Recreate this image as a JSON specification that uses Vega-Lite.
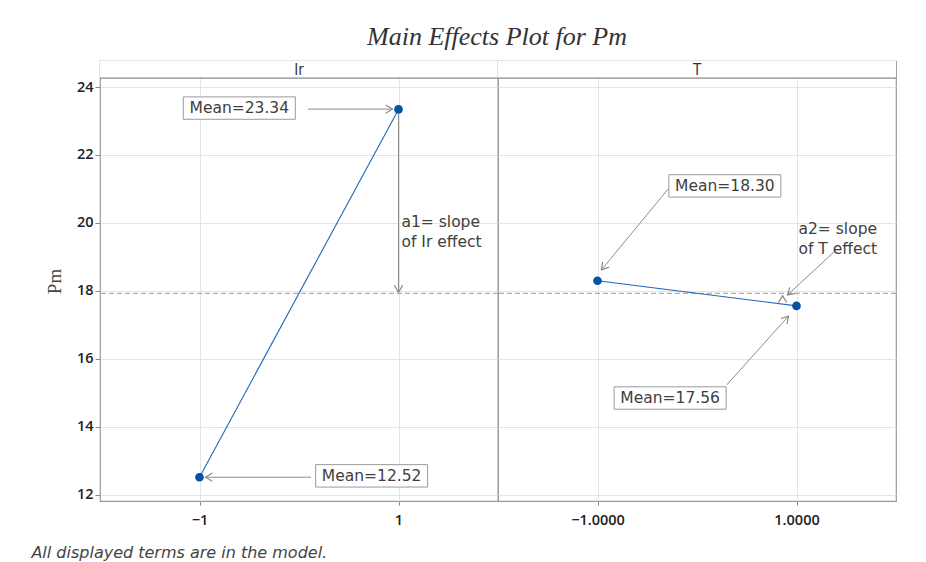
{
  "$schema": "https://vega.github.io/schema/vega-lite/v6.json",
  "background": "white",
  "padding": {"left": 30, "top": 24, "right": 5, "bottom": 5},
  "title": {"text": "Main Effects Plot for Pm", "font": "Liberation Serif", "fontStyle": "italic", "fontWeight": "normal", "fontSize": 26, "color": "#333333", "anchor": "middle", "offset": 10, "dx": 33},
  "spacing": 0,
  "bounds": "flush",
  "datasets": {
    "means": [
      {"panel": "Ir", "level": -1, "mean": 12.52},
      {"panel": "Ir", "level": 1, "mean": 23.34},
      {"panel": "T", "level": -1, "mean": 18.30},
      {"panel": "T", "level": 1, "mean": 17.56}
    ],
    "factors": [
      {"panel": "Ir", "name": "Ir"},
      {"panel": "T", "name": "T"}
    ],
    "boxes": [
      {"panel": "Ir", "x": -0.6, "y": 23.38, "label": "Mean=23.34"},
      {"panel": "Ir", "x": 0.73, "y": 12.56, "label": "Mean=12.52"},
      {"panel": "T", "x": 0.28, "y": 21.09, "label": "Mean=18.30"},
      {"panel": "T", "x": -0.27, "y": 14.85, "label": "Mean=17.56"}
    ],
    "arrows": [
      {"panel": "Ir", "x": 0.09, "y": 23.35, "x2": 0.94, "y2": 23.35, "heading": 0},
      {"panel": "Ir", "x": 1, "y": 23.2, "x2": 1, "y2": 17.96, "heading": 90},
      {"panel": "Ir", "x": 0.12, "y": 12.52, "x2": -0.94, "y2": 12.52, "heading": 180},
      {"panel": "T", "x": -0.29, "y": 21.0, "x2": -0.96, "y2": 18.62, "heading": 129},
      {"panel": "T", "x": 1.40, "y": 19.21, "x2": 0.91, "y2": 17.88, "heading": 137},
      {"panel": "T", "x": 0.30, "y": 15.24, "x2": 0.92, "y2": 17.26, "heading": 312},
      {"panel": "T", "x": 0.86, "y": 17.80, "x2": 0.86, "y2": 17.86, "heading": 270}
    ],
    "notes": [
      {"panel": "Ir", "x": 1.03, "y": 20.03, "label": "a1= slope\nof Ir effect"},
      {"panel": "T", "x": 1.02, "y": 19.81, "label": "a2= slope\nof T effect"}
    ]
  },
  "hconcat": [
    {
      "width": 398,
      "height": 440,
      "title": {"text": "All displayed terms are in the model.", "orient": "bottom", "anchor": "start", "dx": -14, "offset": 18, "font": "DejaVu Sans", "fontStyle": "italic", "fontWeight": "normal", "fontSize": 16, "color": "#444444"},
      "layer": [
        {
          "data": {"name": "means"},
          "transform": [{"filter": "datum.panel === 'Ir'"}],
          "mark": {"type": "rule", "stroke": "#b0b0b0", "strokeDash": [5, 3], "strokeWidth": 1.2},
          "encoding": {
            "y": {"aggregate": "mean", "field": "mean", "type": "quantitative", "scale": {"domain": [11.82, 24.765], "nice": false, "zero": false},
              "axis": {"values": [12, 14, 16, 18, 20, 22, 24], "title": "Pm", "titleFont": "Liberation Serif", "titleFontSize": 19, "titleFontWeight": "normal", "titleColor": "#444444", "titlePadding": 12, "labelFont": "Open Sans", "labelFontWeight": 600, "labelFontSize": 14.5, "labelColor": "#222222", "labelPadding": 2, "tickSize": 5, "tickColor": "#888888", "domain": false, "grid": true, "gridColor": "#e4e4e4"}}
          }
        },
        {
          "data": {"name": "factors"},
          "transform": [{"filter": "datum.panel === 'Ir'"}],
          "mark": {"type": "rect", "fill": "white", "stroke": null},
          "encoding": {"y": {"datum": 24.26}, "y2": {"datum": 24.765}}
        },
        {
          "data": {"name": "factors"},
          "transform": [{"filter": "datum.panel === 'Ir'"}],
          "mark": {"type": "rule", "stroke": "#8a8a8a", "strokeWidth": 1.2},
          "encoding": {"y": {"datum": 24.26}}
        },
        {
          "data": {"name": "factors"},
          "transform": [{"filter": "datum.panel === 'Ir'"}],
          "mark": {"type": "text", "font": "DejaVu Sans Condensed, Liberation Sans Narrow, sans-serif", "fontSize": 15, "color": "#333333", "baseline": "middle"},
          "encoding": {"y": {"datum": 24.51}, "text": {"field": "name", "type": "nominal"}}
        },
        {
          "data": {"name": "means"},
          "transform": [{"filter": "datum.panel === 'Ir'"}],
          "mark": {"type": "line", "color": "#1f66b8", "strokeWidth": 1.1},
          "encoding": {
            "x": {"field": "level", "type": "quantitative", "scale": {"domain": [-2, 2], "nice": false, "zero": false},
              "axis": {"values": [-1, 1], "format": "d", "title": null, "labelFont": "Open Sans", "labelFontWeight": 600, "labelFontSize": 14.5, "labelColor": "#222222", "labelPadding": 8, "tickSize": 4, "tickColor": "#888888", "domain": false, "grid": true, "gridColor": "#e4e4e4"}},
            "y": {"field": "mean", "type": "quantitative"}
          }
        },
        {
          "data": {"name": "arrows"},
          "transform": [{"filter": "datum.panel === 'Ir'"}],
          "mark": {"type": "rule", "stroke": "#8c8c8c", "strokeWidth": 1},
          "encoding": {
            "x": {"field": "x", "type": "quantitative"},
            "y": {"field": "y", "type": "quantitative"},
            "x2": {"field": "x2"},
            "y2": {"field": "y2"}
          }
        },
        {
          "data": {"name": "arrows"},
          "transform": [{"filter": "datum.panel === 'Ir'"}],
          "mark": {"type": "point", "shape": "M-1,-0.6L0,0L-1,0.6", "filled": false, "stroke": "#8c8c8c", "strokeWidth": 1.2, "size": 190, "opacity": 1},
          "encoding": {
            "x": {"field": "x2", "type": "quantitative"},
            "y": {"field": "y2", "type": "quantitative"},
            "angle": {"field": "heading", "type": "quantitative", "scale": null}
          }
        },
        {
          "data": {"name": "means"},
          "transform": [{"filter": "datum.panel === 'Ir'"}],
          "mark": {"type": "point", "filled": true, "color": "#0053a6", "size": 75, "opacity": 1},
          "encoding": {
            "x": {"field": "level", "type": "quantitative"},
            "y": {"field": "mean", "type": "quantitative"}
          }
        },
        {
          "data": {"name": "boxes"},
          "transform": [{"filter": "datum.panel === 'Ir'"}],
          "mark": {"type": "point", "shape": "M-1,-0.2H1V0.2H-1Z", "filled": true, "fill": "white", "stroke": "#9a9a9a", "strokeWidth": 1, "size": 12544, "opacity": 1},
          "encoding": {
            "x": {"field": "x", "type": "quantitative"},
            "y": {"field": "y", "type": "quantitative"}
          }
        },
        {
          "data": {"name": "boxes"},
          "transform": [{"filter": "datum.panel === 'Ir'"}],
          "mark": {"type": "text", "font": "DejaVu Sans", "fontSize": 15.5, "color": "#404040", "baseline": "middle", "align": "center"},
          "encoding": {
            "x": {"field": "x", "type": "quantitative"},
            "y": {"field": "y", "type": "quantitative"},
            "text": {"field": "label", "type": "nominal"}
          }
        },
        {
          "data": {"name": "notes"},
          "transform": [{"filter": "datum.panel === 'Ir'"}],
          "mark": {"type": "text", "font": "DejaVu Sans", "fontSize": 15.5, "color": "#404040", "baseline": "middle", "align": "left", "lineBreak": "\n", "lineHeight": 20},
          "encoding": {
            "x": {"field": "x", "type": "quantitative"},
            "y": {"field": "y", "type": "quantitative"},
            "text": {"field": "label", "type": "nominal"}
          }
        }
      ]
    },
    {
      "width": 398,
      "height": 440,
      "layer": [
        {
          "data": {"name": "means"},
          "transform": [{"filter": "datum.panel === 'T'"}],
          "mark": {"type": "rule", "stroke": "#b0b0b0", "strokeDash": [5, 3], "strokeWidth": 1.2},
          "encoding": {
            "y": {"aggregate": "mean", "field": "mean", "type": "quantitative", "scale": {"domain": [11.82, 24.765], "nice": false, "zero": false},
              "axis": {"values": [12, 14, 16, 18, 20, 22, 24], "title": null, "labels": false, "ticks": false, "domain": false, "grid": true, "gridColor": "#e4e4e4"}}
          }
        },
        {
          "data": {"name": "factors"},
          "transform": [{"filter": "datum.panel === 'T'"}],
          "mark": {"type": "rect", "fill": "white", "stroke": null},
          "encoding": {"y": {"datum": 24.26}, "y2": {"datum": 24.765}}
        },
        {
          "data": {"name": "factors"},
          "transform": [{"filter": "datum.panel === 'T'"}],
          "mark": {"type": "rule", "stroke": "#8a8a8a", "strokeWidth": 1.2},
          "encoding": {"y": {"datum": 24.26}}
        },
        {
          "data": {"name": "factors"},
          "transform": [{"filter": "datum.panel === 'T'"}],
          "mark": {"type": "text", "font": "DejaVu Sans Condensed, Liberation Sans Narrow, sans-serif", "fontSize": 15, "color": "#333333", "baseline": "middle"},
          "encoding": {"y": {"datum": 24.51}, "text": {"field": "name", "type": "nominal"}}
        },
        {
          "data": {"name": "means"},
          "transform": [{"filter": "datum.panel === 'T'"}],
          "mark": {"type": "line", "color": "#1f66b8", "strokeWidth": 1.1},
          "encoding": {
            "x": {"field": "level", "type": "quantitative", "scale": {"domain": [-2, 2], "nice": false, "zero": false},
              "axis": {"values": [-1, 1], "format": ".4f", "title": null, "labelFont": "Open Sans", "labelFontWeight": 600, "labelFontSize": 14.5, "labelColor": "#222222", "labelPadding": 8, "tickSize": 4, "tickColor": "#888888", "domain": false, "grid": true, "gridColor": "#e4e4e4"}},
            "y": {"field": "mean", "type": "quantitative"}
          }
        },
        {
          "data": {"name": "arrows"},
          "transform": [{"filter": "datum.panel === 'T'"}],
          "mark": {"type": "rule", "stroke": "#8c8c8c", "strokeWidth": 1},
          "encoding": {
            "x": {"field": "x", "type": "quantitative"},
            "y": {"field": "y", "type": "quantitative"},
            "x2": {"field": "x2"},
            "y2": {"field": "y2"}
          }
        },
        {
          "data": {"name": "arrows"},
          "transform": [{"filter": "datum.panel === 'T'"}],
          "mark": {"type": "point", "shape": "M-1,-0.6L0,0L-1,0.6", "filled": false, "stroke": "#8c8c8c", "strokeWidth": 1.2, "size": 190, "opacity": 1},
          "encoding": {
            "x": {"field": "x2", "type": "quantitative"},
            "y": {"field": "y2", "type": "quantitative"},
            "angle": {"field": "heading", "type": "quantitative", "scale": null}
          }
        },
        {
          "data": {"name": "means"},
          "transform": [{"filter": "datum.panel === 'T'"}],
          "mark": {"type": "point", "filled": true, "color": "#0053a6", "size": 75, "opacity": 1},
          "encoding": {
            "x": {"field": "level", "type": "quantitative"},
            "y": {"field": "mean", "type": "quantitative"}
          }
        },
        {
          "data": {"name": "boxes"},
          "transform": [{"filter": "datum.panel === 'T'"}],
          "mark": {"type": "point", "shape": "M-1,-0.2H1V0.2H-1Z", "filled": true, "fill": "white", "stroke": "#9a9a9a", "strokeWidth": 1, "size": 12544, "opacity": 1},
          "encoding": {
            "x": {"field": "x", "type": "quantitative"},
            "y": {"field": "y", "type": "quantitative"}
          }
        },
        {
          "data": {"name": "boxes"},
          "transform": [{"filter": "datum.panel === 'T'"}],
          "mark": {"type": "text", "font": "DejaVu Sans", "fontSize": 15.5, "color": "#404040", "baseline": "middle", "align": "center"},
          "encoding": {
            "x": {"field": "x", "type": "quantitative"},
            "y": {"field": "y", "type": "quantitative"},
            "text": {"field": "label", "type": "nominal"}
          }
        },
        {
          "data": {"name": "notes"},
          "transform": [{"filter": "datum.panel === 'T'"}],
          "mark": {"type": "text", "font": "DejaVu Sans", "fontSize": 15.5, "color": "#404040", "baseline": "middle", "align": "left", "lineBreak": "\n", "lineHeight": 20},
          "encoding": {
            "x": {"field": "x", "type": "quantitative"},
            "y": {"field": "y", "type": "quantitative"},
            "text": {"field": "label", "type": "nominal"}
          }
        }
      ]
    }
  ],
  "config": {
    "view": {"stroke": "#999999", "strokeWidth": 1.2},
    "axis": {"titleFontWeight": "normal"}
  }
}
